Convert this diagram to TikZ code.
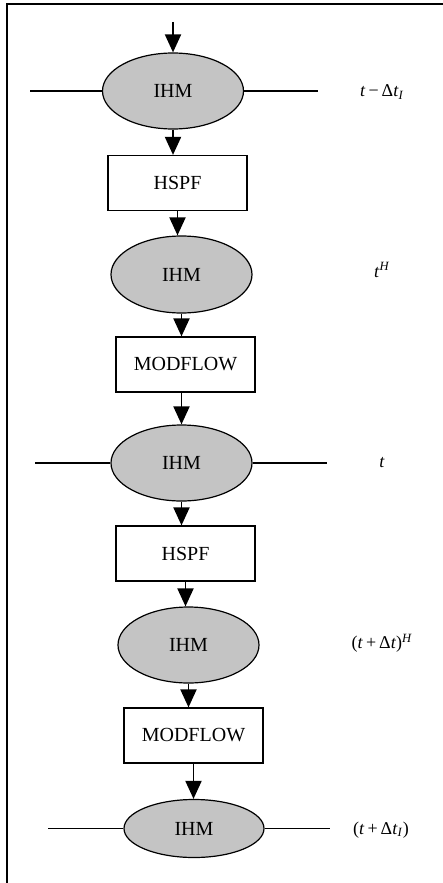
\documentclass[tikz,border=0pt]{standalone}
\usepackage{fontspec}
\setmainfont{Liberation Serif}
\usetikzlibrary{shapes.geometric,arrows.meta}
\definecolor{ihmgray}{RGB}{196,196,196}
\begin{document}
\begin{tikzpicture}[x=1pt,y=-1pt,
  ihm/.style={ellipse,draw,line width=1.2pt,fill=ihmgray,inner sep=0pt,
    minimum width=141pt,minimum height=76pt,font=\fontsize{20}{22}\selectfont},
  model/.style={rectangle,draw,line width=1.2pt,fill=white,inner sep=0pt,
    minimum width=139pt,minimum height=55pt,font=\fontsize{20}{22}\selectfont},
  flow/.style={line width=1.9pt,-{Triangle[length=18pt,width=16pt]}},
  level/.style={line width=1.3pt},
  stamp/.style={font=\fontsize{18}{20}\selectfont,inner sep=0pt}]
  \useasboundingbox (0,0) rectangle (443,883);
  % frame
  \draw[line width=2.2pt] (7,883) -- (7,4) -- (443,4);

  % chain of models
  \node[ihm]   (ihmA) at (173,91)    {IHM};
  \node[model] (hspfA) at (177.5,183) {HSPF};
  \node[ihm,minimum height=77pt] (ihmB) at (181.5,274.5) {IHM};
  \node[model] (modA) at (185.5,364.5) {MODFLOW};
  \node[ihm]   (ihmC) at (181.5,463)  {IHM};
  \node[model] (hspfB) at (185.5,553.5) {HSPF};
  \node[ihm]   (ihmD) at (188.5,645)  {IHM};
  \node[model] (modB) at (193.5,735.5) {MODFLOW};
  \node[ihm,minimum width=140pt,minimum height=58pt] (ihmE) at (194,828.5) {IHM};

  % input from above
  \coordinate (start) at (173,22);
  \draw[flow] (start) -- (ihmA.north);

  % vertical flow
  \draw[flow] (ihmA.south) -- (ihmA.south |- hspfA.north);
  \draw[flow] (hspfA.south) -- (hspfA.south |- ihmB.north);
  \draw[flow] (ihmB.south) -- (ihmB.south |- modA.north);
  \draw[flow] (ihmC.north |- modA.south) -- (ihmC.north);
  \draw[flow] (ihmC.south) -- (ihmC.south |- hspfB.north);
  \draw[flow] (hspfB.south) -- (hspfB.south |- ihmD.north);
  \draw[flow] (ihmD.south) -- (ihmD.south |- modB.north);
  \draw[flow] (modB.south) -- (modB.south |- ihmE.north);

  % time levels
  \coordinate (aL) at (30,91);   \coordinate (aR) at (318,91);
  \coordinate (cL) at (35,463);  \coordinate (cR) at (327,463);
  \coordinate (eL) at (48,828.5); \coordinate (eR) at (330,828.5);
  \draw[level] (aL) -- (ihmA.west);  \draw[level] (ihmA.east) -- (aR);
  \draw[level] (cL) -- (ihmC.west);  \draw[level] (ihmC.east) -- (cR);
  \draw[level] (eL) -- (ihmE.west);  \draw[level] (ihmE.east) -- (eR);

  % time labels
  \node[stamp] (tA) at (382,92)  {\textit{t}\,−\,Δ\textit{t}\textsubscript{\textit{I}}};
  \node[stamp] (tB) at (382,270) {\textit{t}\textsuperscript{\textit{H}}};
  \node[stamp] (tC) at (382,463) {\textit{t}};
  \node[stamp] (tD) at (382,643) {(\textit{t}\,+\,Δ\textit{t})\textsuperscript{\textit{H}}};
  \node[stamp] (tE) at (381,830) {(\textit{t}\,+\,Δ\textit{t}\textsubscript{\textit{I}})};
\end{tikzpicture}
\end{document}
